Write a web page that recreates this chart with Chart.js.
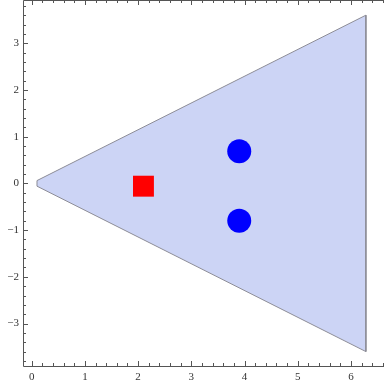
<!DOCTYPE html>
<html>
<head>
<meta charset="utf-8">
<script src="https://cdn.jsdelivr.net/npm/chart.js@4/dist/chart.umd.min.js"></script>
<style>
  html, body { margin: 0; padding: 0; background: #fff; }
  canvas { display: block; }
</style>
</head>
<body>
<canvas id="plot" width="384" height="385"></canvas>
<script>
// axis ticks
const xTicks = [0, 1, 2, 3, 4, 5, 6];
const yTicks = [-3, -2, -1, 0, 1, 2, 3];

// wedge region (closed, with a blunt tip on the left)
const wedgeX = [0.1, 6.28, 6.28, 0.1, 0.1];
const wedgeY = [0.06, 3.6, -3.6, -0.06, 0.06];

// markers
const squareX = [2.1];
const squareY = [-0.06];
const circleX = [3.9, 3.9];
const circleY = [0.69, -0.8];

const xRange = [-0.163, 6.62];
const yRange = [-3.93, 3.925];

function toPoints(xs, ys) {
    return xs.map((x, i) => ({ x: x, y: ys[i] }));
}

function fmt(v) {
    return v < 0 ? '\u2212' + Math.abs(v) : String(v);
}

function noPad(s) {
    s.paddingTop = 0;
    s.paddingBottom = 0;
    s.paddingLeft = 0;
    s.paddingRight = 0;
}

// frame with inward major/minor ticks
const frameTicks = {
    id: 'frameTicks',
    afterDatasetsDraw(chart) {
        const ctx = chart.ctx;
        const area = chart.chartArea;
        const xs = chart.scales.x;
        const ys = chart.scales.y;
        ctx.save();
        ctx.strokeStyle = '#555';
        ctx.lineWidth = 1;
        ctx.beginPath();
        ctx.rect(Math.round(area.left) + 0.5, Math.round(area.top) + 0.5,
                 area.right - area.left, area.bottom - area.top - 1);
        ctx.stroke();

        ctx.beginPath();
        const xStep = xTicks[1] - xTicks[0];
        for (let v = xTicks[0] - xStep; v <= xTicks[xTicks.length - 1] + xStep; v += xStep / 5) {
            const val = Math.round(v * 1000) / 1000;
            if (val < xRange[0] || val > xRange[1]) continue;
            const px = Math.round(xs.getPixelForValue(val)) + 0.5;
            const major = Math.abs(val - Math.round(val)) < 1e-6;
            const len = major ? 5 : 3;
            ctx.moveTo(px, area.bottom - 1);
            ctx.lineTo(px, area.bottom - 1 - len);
            ctx.moveTo(px, area.top);
            ctx.lineTo(px, area.top + len);
        }
        const yStep = yTicks[1] - yTicks[0];
        for (let v = yTicks[0] - yStep; v <= yTicks[yTicks.length - 1] + yStep; v += yStep / 5) {
            const val = Math.round(v * 1000) / 1000;
            if (val < yRange[0] || val > yRange[1]) continue;
            const py = Math.round(ys.getPixelForValue(val)) + 0.5;
            const major = Math.abs(val - Math.round(val)) < 1e-6;
            const len = major ? 5 : 3;
            ctx.moveTo(area.left, py);
            ctx.lineTo(area.left + len, py);
        }
        ctx.stroke();
        ctx.restore();
    }
};

const tickFont = { family: '"Liberation Serif", "DejaVu Serif", serif', size: 11 };

new Chart(document.getElementById('plot'), {
    type: 'scatter',
    data: {
        datasets: [
            {
                data: toPoints(wedgeX, wedgeY),
                showLine: true,
                fill: 'shape',
                backgroundColor: 'rgb(204, 212, 245)',
                borderColor: '#8c8c96',
                borderWidth: 1,
                pointRadius: 0,
                tension: 0,
                order: 3
            },
            {
                data: toPoints(squareX, squareY),
                pointStyle: 'rect',
                pointRadius: 14.8,
                backgroundColor: '#ff0000',
                borderWidth: 0,
                order: 1
            },
            {
                data: toPoints(circleX, circleY),
                pointStyle: 'circle',
                pointRadius: 12,
                backgroundColor: '#0000ff',
                borderWidth: 0,
                order: 1
            }
        ]
    },
    options: {
        responsive: false,
        animation: false,
        layout: { padding: 0, autoPadding: false },
        plugins: {
            legend: { display: false },
            tooltip: { enabled: false }
        },
        scales: {
            x: {
                type: 'linear',
                min: xRange[0],
                max: xRange[1],
                grid: { display: false, drawTicks: false },
                border: { display: false },
                afterBuildTicks: s => { s.ticks = xTicks.map(v => ({ value: v })); },
                afterFit: s => { s.height = 18; noPad(s); },
                ticks: {
                    font: tickFont,
                    color: '#333',
                    padding: 4,
                    maxRotation: 0,
                    callback: v => fmt(v)
                }
            },
            y: {
                type: 'linear',
                min: yRange[0],
                max: yRange[1],
                grid: { display: false, drawTicks: false },
                border: { display: false },
                afterBuildTicks: s => { s.ticks = yTicks.map(v => ({ value: v })); },
                afterFit: s => { s.width = 23; noPad(s); },
                ticks: {
                    font: tickFont,
                    color: '#333',
                    padding: 4,
                    callback: v => fmt(v)
                }
            }
        }
    },
    plugins: [frameTicks]
});
</script>
</body>
</html>
